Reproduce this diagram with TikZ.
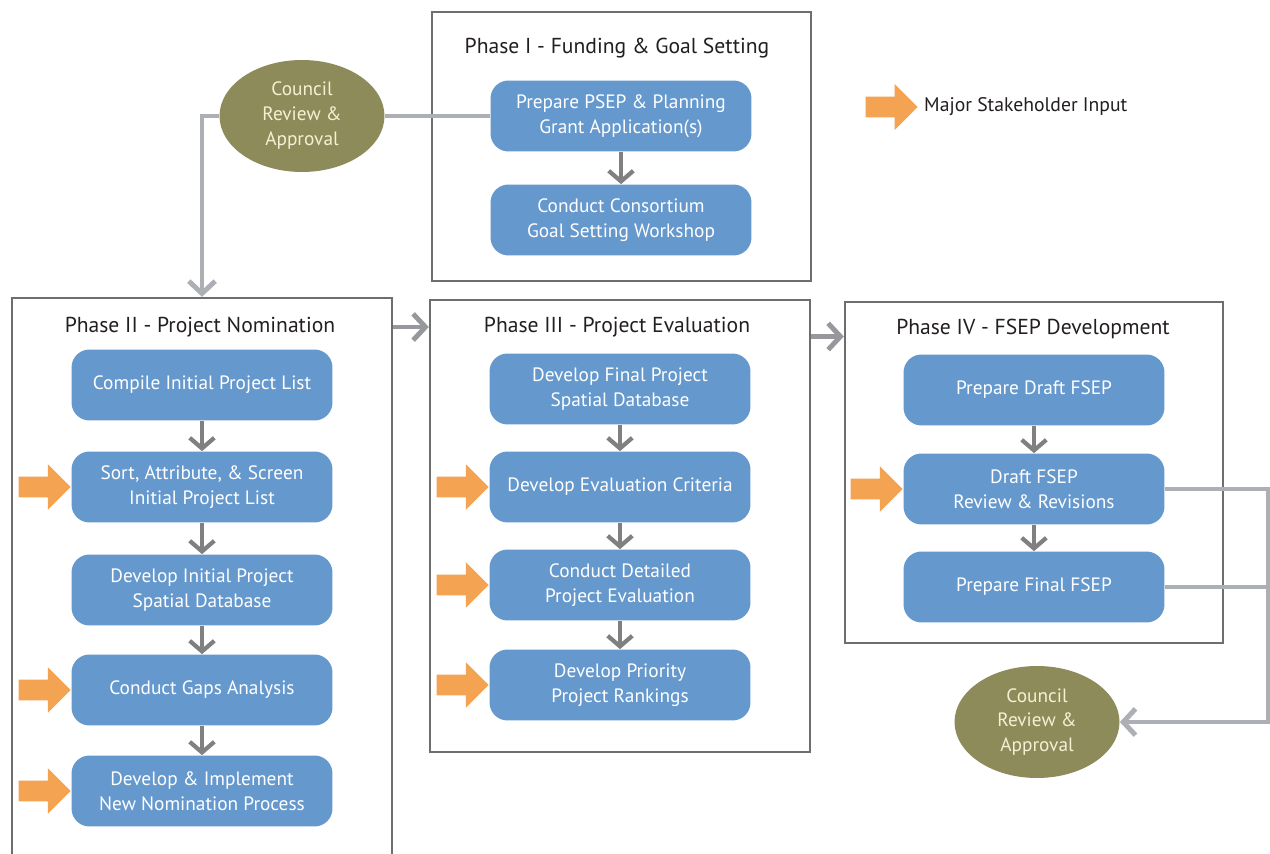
\documentclass[tikz,border=0pt]{standalone}
\usepackage{fontspec}
\setmainfont{PT Sans}
\usetikzlibrary{shapes.geometric,shapes.arrows,arrows.meta}

\definecolor{boxblue}{RGB}{101,152,205}
\definecolor{councilolive}{RGB}{141,139,90}
\definecolor{councilcream}{RGB}{245,240,210}
\definecolor{inputorange}{RGB}{244,163,82}
\definecolor{framegray}{RGB}{110,110,110}
\definecolor{arrowgray}{RGB}{128,128,128}
\definecolor{flowgray}{RGB}{150,152,156}
\definecolor{linegray}{RGB}{172,176,180}
\definecolor{titleblack}{RGB}{35,31,32}

\tikzset{
  stepbox/.style={rectangle, rounded corners=0.36cm, fill=boxblue, text=white,
    minimum width=5.22cm, minimum height=1.42cm, align=center,
    font=\fontsize{11}{14.2}\selectfont},
  phasebox/.style={rectangle, draw=framegray, line width=1.4pt},
  phasetitle/.style={text=titleblack, font=\fontsize{12.3}{15}\selectfont},
  council/.style={ellipse, fill=councilolive, text=councilcream, inner sep=0pt,
    minimum width=3.3cm, minimum height=2.24cm, align=center,
    font=\fontsize{11}{14.2}\selectfont},
  stakearrow/.style={single arrow, fill=inputorange, inner xsep=0pt, inner ysep=0.2cm,
    anchor=tip, minimum height=1.04cm, single arrow head extend=0.25cm},
  godown/.style={draw=arrowgray, line width=2.4pt,
    -{Straight Barb[length=6pt,width=14pt]}},
  phaseflow/.style={draw=flowgray, line width=2.8pt,
    -{Straight Barb[length=7pt,width=15pt]}},
  councilline/.style={draw=linegray, line width=2.8pt},
  councilflow/.style={councilline, -{Straight Barb[length=7pt,width=15pt]}}
}

\begin{document}
\begin{tikzpicture}[x=0.02cm,y=-0.02cm]
\clip (0,0) rectangle (1270,854);
\fill[white] (0,0) rectangle (1270,854);

% phase frames and titles
\node[phasebox, minimum width=7.58cm, minimum height=5.38cm] (p1) at (621.5,146.5) {};
\node[phasebox, minimum width=7.6cm, minimum height=11.64cm] (p2) at (202,589) {};
\node[phasebox, minimum width=7.6cm, minimum height=9.04cm] (p3) at (620,526) {};
\node[phasebox, minimum width=7.56cm, minimum height=6.82cm] (p4) at (1034,472.5) {};
\node[phasetitle] (t1) at (617,48) {Phase I - Funding \& Goal Setting};
\node[phasetitle] (t2) at (200,327) {Phase II - Project Nomination};
\node[phasetitle] (t3) at (617,327) {Phase III - Project Evaluation};
\node[phasetitle] (t4) at (1033,329) {Phase IV - FSEP Development};

% Phase I
\node[stepbox] (a1) at (621,116) {Prepare PSEP \& Planning\\Grant Application(s)};
\node[stepbox] (a2) at (621,220) {Conduct Consortium\\Goal Setting Workshop};

% Phase II
\node[stepbox] (b1) at (202,385) {Compile Initial Project List};
\node[stepbox] (b2) at (202,487) {Sort, Attribute, \& Screen\\Initial Project List};
\node[stepbox] (b3) at (202,590) {Develop Initial Project\\Spatial Database};
\node[stepbox] (b4) at (202,690) {Conduct Gaps Analysis};
\node[stepbox] (b5) at (202,791) {Develop \& Implement\\New Nomination Process};

% Phase III
\node[stepbox] (c1) at (620,389) {Develop Final Project\\Spatial Database};
\node[stepbox] (c2) at (620,487) {Develop Evaluation Criteria};
\node[stepbox] (c3) at (620,585) {Conduct Detailed\\Project Evaluation};
\node[stepbox] (c4) at (620,685) {Develop Priority\\Project Rankings};

% Phase IV
\node[stepbox] (d1) at (1034,390) {Prepare Draft FSEP};
\node[stepbox] (d2) at (1034,489) {Draft FSEP\\Review \& Revisions};
\node[stepbox] (d3) at (1034,587) {Prepare Final FSEP};

% council reviews
\node[council] (k1) at (302,116) {Council\\Review \&\\Approval};
\node[council] (k2) at (1037,722) {Council\\Review \&\\Approval};

% stakeholder input
\node[stakearrow] (s1) at (b2.west) {};
\node[stakearrow] (s2) at (b4.west) {};
\node[stakearrow] (s3) at (b5.west) {};
\node[stakearrow] (s4) at (c2.west) {};
\node[stakearrow] (s5) at (c3.west) {};
\node[stakearrow] (s6) at (c4.west) {};
\node[stakearrow] (s7) at (d2.west) {};
\node[stakearrow] (sl) at (918,107) {};
\node[text=titleblack, anchor=west, font=\fontsize{11.2}{14}\selectfont] (lt) at (sl.tip) {Major Stakeholder Input};

\draw[godown] (a1.south) -- (a2.north);
\draw[godown] (b1.south) -- (b2.north);
\draw[godown] (b2.south) -- (b3.north);
\draw[godown] (b3.south) -- (b4.north);
\draw[godown] (b4.south) -- (b5.north);
\draw[godown] (c1.south) -- (c2.north);
\draw[godown] (c2.south) -- (c3.north);
\draw[godown] (c3.south) -- (c4.north);
\draw[godown] (d1.south) -- (d2.north);
\draw[godown] (d2.south) -- (d3.north);

\draw[phaseflow] (p2.east |- t2) -- (p3.west |- t2);
\draw[phaseflow] ([yshift=-0.15cm]p3.east |- t4) -- ([yshift=-0.15cm]p4.west |- t4);

\coordinate (rt) at (1268,0);
\draw[councilline] (a1.west) -- (k1.east);
\draw[councilflow] (k1.west) -| (p2.north);
\draw[councilline] (d3.east) -- (d3.east -| rt);
\draw[councilflow] (d2.east) -| (rt |- k2.east) -- (k2.east);
\end{tikzpicture}
\end{document}
